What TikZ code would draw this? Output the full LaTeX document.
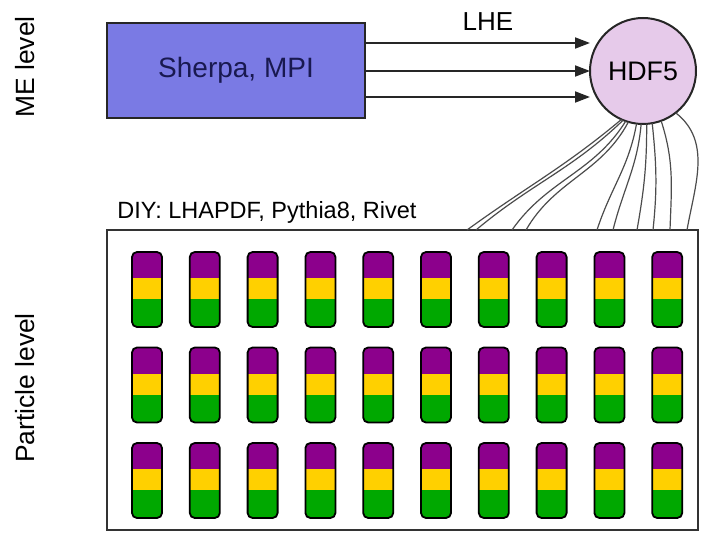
\documentclass[tikz,border=0pt]{standalone}
\usepackage{fontspec}
\setmainfont{Liberation Sans}
\usetikzlibrary{arrows.meta,positioning}
\definecolor{mefill}{RGB}{122,122,228}
\definecolor{metext}{RGB}{25,25,80}
\definecolor{hdffill}{RGB}{230,202,234}
\definecolor{pilltop}{RGB}{140,0,140}
\definecolor{pillmid}{RGB}{255,208,0}
\definecolor{pillbot}{RGB}{0,168,0}
\tikzset{box/.style={draw=black!85,line width=1.2pt,fill=mefill,text=metext,minimum width=129pt,minimum height=47.5pt,
    outer sep=0pt,font=\fontsize{14}{16}\selectfont},
  store/.style={circle,draw=black!85,line width=1pt,fill=hdffill,minimum size=53pt,inner sep=0pt,outer sep=0pt,
    font=\fontsize{13.4}{15}\selectfont},
  panel/.style={draw=black!80,line width=1.4pt,minimum width=295.5pt,minimum height=150pt,outer sep=0pt},
  lvl/.style={rotate=90,font=\fontsize{13.2}{15}\selectfont},
  arr/.style={-{Triangle[length=7.5pt,width=5.5pt]},line width=0.9pt,black!85},
  feed/.style={black!70,line width=0.6pt},
  pill/.pic={
    \begin{scope}
      \clip[rounded corners=2.5pt] (-15,-37.5) rectangle (15,37.5);
      \fill[pilltop] (-15,-37.5) rectangle (15,-11.5);
      \fill[pillmid] (-15,-11.5) rectangle (15,9.5);
      \fill[pillbot] (-15,9.5) rectangle (15,37.5);
    \end{scope}
    \draw[line width=0.9pt,rounded corners=2.5pt] (-15,-37.5) rectangle (15,37.5);
  }}

\begin{document}
\begin{tikzpicture}[x=0.5pt,y=-0.5pt]
\useasboundingbox (0,0) rectangle (701,535);
\node[lvl] (melvl) at (25,67) {ME level};
\node[lvl] (ptlvl) at (25,388) {Particle level};
\node[box] (sherpa) at (236,70.5) {Sherpa, MPI};
\node[store] (hdf) at (643,71) {HDF5};
\node[font=\fontsize{13}{15}\selectfont] (lhe) at (488,22) {LHE};
\foreach \y/\n in {43/a,71/b,97/c}{
  \coordinate (tip\n) at (590,\y);
  \draw[arr] (sherpa.east |- tip\n) -- (tip\n);
}
\node[panel] (diy) at (402.5,380) {};
\node[anchor=west,inner sep=0pt,font=\fontsize{11.75}{14}\selectfont] (diylbl) at (117,212) {DIY: LHAPDF, Pythia8, Rivet};
\foreach \a/\x/\o/\i [count=\k] in {-114/467/-140/36,-112/476/-136/40,-109/512/-122/55,-106/526/-118/60,
    -97/597/-100/72,-92/613/-95/76,-86/637/-90/80,-80/653/-84/84,-70/670/-72/88,-52/687/-38/80}{
  \coordinate (end\k) at (\x,230);
  \draw[feed] (hdf.\a) to[out=\o,in=\i] (end\k);
}
\foreach \r in {0,1,2}
  \foreach \c in {0,...,9}
    \pic at ({147+57.8*\c},{289.5+95.5*\r}) {pill};
\end{tikzpicture}
\end{document}
